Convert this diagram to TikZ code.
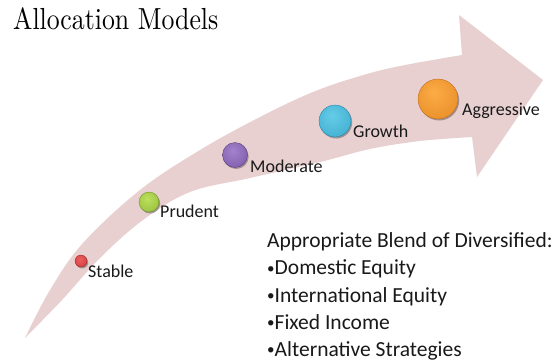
\documentclass[tikz,border=0pt]{standalone}
\usepackage{fontspec}
\newfontfamily\calib{Carlito}
\usetikzlibrary{shadows}
\definecolor{arrowpink}{RGB}{232,208,209}
\definecolor{redhi}{RGB}{238,95,95}\definecolor{redlo}{RGB}{185,30,35}
\definecolor{greenhi}{RGB}{190,225,95}\definecolor{greenlo}{RGB}{115,160,30}
\definecolor{purplehi}{RGB}{165,130,205}\definecolor{purplelo}{RGB}{95,60,140}
\definecolor{bluehi}{RGB}{100,205,232}\definecolor{bluelo}{RGB}{35,145,185}
\definecolor{orangehi}{RGB}{252,172,70}\definecolor{orangelo}{RGB}{215,115,15}
\colorlet{bubhi}{red}\colorlet{bublo}{red}
\pgfdeclareradialshading[bubhi,bublo]{bubsh}{\pgfpoint{-5bp}{9bp}}{color(0bp)=(bubhi); color(30bp)=(bubhi!55!bublo); color(52bp)=(bublo); color(70bp)=(bublo)}
\newcommand{\smbul}{\raisebox{1.2pt}{\scalebox{0.7}{•}}}
\tikzset{
  bub/.style 2 args={circle, inner sep=0pt, minimum size=#1,
    /utils/exec={\colorlet{bubhi}{#2hi}\colorlet{bublo}{#2lo}},
    shading=bubsh, draw=#2lo!85!black, line width=0.3pt,
    drop shadow={shadow xshift=1.2pt, shadow yshift=-1.5pt, opacity=.3, fill=black}},
  lab/.style={anchor=base west, inner sep=0pt, font=\calib\fontsize{18}{22}\selectfont, text=black!90},
  blk/.style={anchor=base west, inner sep=0pt, font=\calib\fontsize{21.5}{26}\selectfont, text=black!90}
}
\begin{document}
\begin{tikzpicture}[x=1pt,y=-1pt]
\useasboundingbox (0,0) rectangle (554,360);
\fill[white] (0,0) rectangle (554,360);
% curved arrow
\fill[arrowpink] (25,338)
  -- plot[smooth, tension=0.6] coordinates {(25,338) (50,290) (83,243) (140,190) (200,150) (260,117) (313,92) (360,76) (400,66) (462,55)}
  -- (459,15) -- (543,80) -- (477,177) -- (472,137)
  -- plot[smooth, tension=0.6] coordinates {(472,137) (420,141) (370,149) (320,162) (250,178) (190,192) (143,220) (100,258) (62,300) (25,338)}
  -- cycle;
% title
\node[anchor=base west, inner sep=0pt] (title) at (13,29) {\scalebox{2.58}[3.05]{\fontsize{10}{12}\selectfont Allocation Models}};
% bubbles
\node[bub={12pt}{red}] (stable) at (81,261) {};
\node[bub={20pt}{green}] (prudent) at (149,202) {};
\node[bub={25pt}{purple}] (moderate) at (235,155) {};
\node[bub={32pt}{blue}] (growth) at (335,121) {};
\node[bub={40pt}{orange}] (aggressive) at (438,99) {};
% labels
\node[lab] (tstable) at (88,277) {Stable};
\node[lab] (tprudent) at (160,217) {Prudent};
\node[lab] (tmoderate) at (250,172) {Moderate};
\node[lab] (tgrowth) at (353,137) {Growth};
\node[lab] (taggressive) at (462,115) {Aggressive};
% text block
\node[blk] (l1) at (267,247) {Appropriate Blend of Diversified:};
\node[blk] (l2) at (267,274.5) {\smbul Domestic Equity};
\node[blk] (l3) at (267,302) {\smbul International Equity};
\node[blk] (l4) at (267,329) {\smbul Fixed Income};
\node[blk] (l5) at (267,356) {\smbul Alternative Strategies};
\end{tikzpicture}
\end{document}
